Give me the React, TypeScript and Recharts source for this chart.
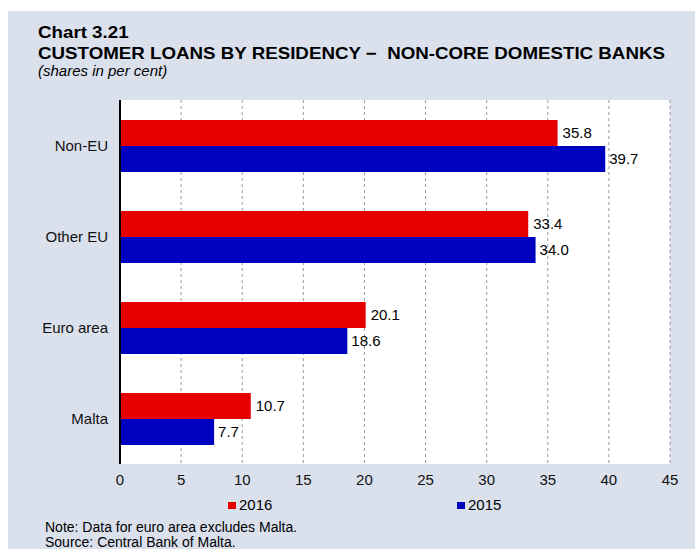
import { BarChart, Bar, XAxis, YAxis, CartesianGrid, LabelList } from 'recharts'

const categories = ['Non-EU', 'Other EU', 'Euro area', 'Malta']
const values2016 = [35.8, 33.4, 20.1, 10.7]
const values2015 = [39.7, 34.0, 18.6, 7.7]
const xTicks = [0, 5, 10, 15, 20, 25, 30, 35, 40, 45]

const FONT = "Arial, 'Liberation Sans', Helvetica, sans-serif"
const RED = '#e60000'
const BLUE = '#0000bf'

export default function App() {
  const data = categories.map((c, i) => ({
    name: c,
    y2016: values2016[i],
    y2015: values2015[i],
  }))

  const fmt = (v: any) => Number(v).toFixed(1)

  return (
    <div style={{ position: 'absolute', left: 0, top: 0, width: 695, height: 549, background: '#fff', fontFamily: FONT, overflow: 'hidden' }}>
      <div style={{ position: 'absolute', left: 8, top: 11, width: 687, height: 538, background: '#dae1ed' }} />

      {/* title is a little wider than plain Arial, so stretch it */}
      <div style={{ position: 'absolute', left: 38, top: 22, fontWeight: 'bold', fontSize: 16.5, lineHeight: '20.6px', color: '#000', whiteSpace: 'nowrap', transform: 'scaleX(1.135)', transformOrigin: 'left top' }}>
        <div>Chart 3.21</div>
        <div>CUSTOMER LOANS BY RESIDENCY −&nbsp; NON-CORE DOMESTIC BANKS</div>
      </div>
      <div style={{ position: 'absolute', left: 38, top: 62, fontStyle: 'italic', fontSize: 15, lineHeight: '17px', color: '#000', whiteSpace: 'nowrap' }}>
        (shares in per cent)
      </div>

      <div style={{ position: 'absolute', left: 0, top: 0 }}>
        <BarChart
          width={695}
          height={549}
          data={data}
          layout="vertical"
          margin={{ top: 100, right: 25, bottom: 55, left: 10 }}
          barSize={26}
          barGap={0}
        >
          <CartesianGrid horizontal={false} vertical={true} stroke="#9a9a9a" strokeDasharray="3 3" fill="#fff" />
          <XAxis
            type="number"
            domain={[0, 45]}
            ticks={xTicks}
            axisLine={false}
            tickLine={false}
            tickMargin={4}
            height={30}
            tick={{ fontSize: 15, fill: '#111', fontFamily: FONT }}
          />
          <YAxis
            type="category"
            dataKey="name"
            width={110}
            axisLine={{ stroke: '#000', strokeWidth: 2 }}
            tickLine={false}
            tickMargin={6}
            tick={{ fontSize: 15, fill: '#111', fontFamily: FONT }}
          />
          <Bar dataKey="y2016" fill={RED} isAnimationActive={false}>
            <LabelList dataKey="y2016" position="right" offset={5} formatter={fmt} style={{ fontSize: 15, fill: '#000', fontFamily: FONT }} />
          </Bar>
          <Bar dataKey="y2015" fill={BLUE} isAnimationActive={false}>
            <LabelList dataKey="y2015" position="right" offset={4} formatter={fmt} style={{ fontSize: 15, fill: '#000', fontFamily: FONT }} />
          </Bar>
        </BarChart>
      </div>

      {/* legend */}
      <div style={{ position: 'absolute', left: 228, top: 502, width: 8, height: 7, background: RED }} />
      <div style={{ position: 'absolute', left: 239, top: 496, fontSize: 15, lineHeight: '17px', color: '#000' }}>2016</div>
      <div style={{ position: 'absolute', left: 457, top: 502, width: 8, height: 7, background: BLUE }} />
      <div style={{ position: 'absolute', left: 468, top: 496, fontSize: 15, lineHeight: '17px', color: '#000' }}>2015</div>

      <div style={{ position: 'absolute', left: 45, top: 520, fontSize: 14, lineHeight: '15px', color: '#000', whiteSpace: 'nowrap' }}>
        <div>Note: Data for euro area excludes Malta.</div>
        <div>Source: Central Bank of Malta.</div>
      </div>
    </div>
  )
}
